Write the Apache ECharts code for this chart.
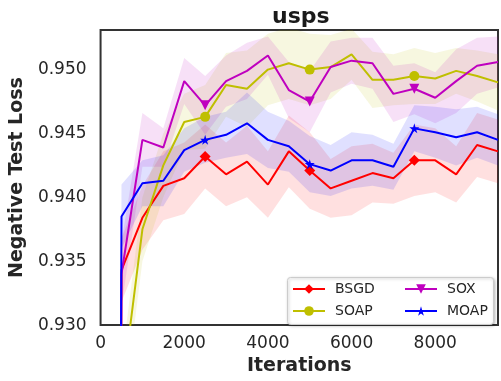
<!DOCTYPE html>
<html>
<head>
<meta charset="utf-8">
<script src="https://cdn.jsdelivr.net/npm/echarts@6/dist/echarts.min.js"></script>
<style>
html,body{margin:0;padding:0;background:#fff;}
#chart{width:501px;height:381px;}
</style>
</head>
<body>
<div id="chart"></div>
<script>
// ---- data ----
var iterations = [0, 500, 1000, 1500, 2000, 2500, 3000, 3500, 4000, 4500, 5000, 5500, 6000, 6500, 7000, 7500, 8000, 8500, 9000, 9500];
var markerIterations = [2500, 5000, 7500];
var seriesNames = ['BSGD', 'SOAP', 'SOX', 'MOAP'];

var BSGD = [0.5, 0.9343, 0.9384, 0.9409, 0.9415, 0.9432, 0.9418, 0.9428, 0.9410, 0.9436, 0.9421, 0.9407, 0.9413, 0.9419, 0.9415, 0.9429, 0.9429, 0.9418, 0.9441, 0.9436];
var SOAP = [0.5, 0.9245, 0.9375, 0.9425, 0.9459, 0.9463, 0.9488, 0.9485, 0.9500, 0.9505, 0.9500, 0.9502, 0.9512, 0.9492, 0.9492, 0.9495, 0.9493, 0.9499, 0.9495, 0.9490];
var SOX  = [0.5, 0.9340, 0.9445, 0.9439, 0.9491, 0.9472, 0.9491, 0.9499, 0.9511, 0.9484, 0.9475, 0.9502, 0.9507, 0.9505, 0.9481, 0.9485, 0.9478, 0.9491, 0.9503, 0.9506];
var MOAP = [0.5, 0.9385, 0.9411, 0.9413, 0.9437, 0.9445, 0.9449, 0.9458, 0.9445, 0.9440, 0.9426, 0.9421, 0.9429, 0.9429, 0.9424, 0.9454, 0.9451, 0.9447, 0.9451, 0.9445];

// half-width of the shaded bands
var BSGD_err = [0.002, 0.0025, 0.0025, 0.0027, 0.0028, 0.0025, 0.0025, 0.0028, 0.0026, 0.0028, 0.0030, 0.0023, 0.0027, 0.0023, 0.0020, 0.0028, 0.0025, 0.0022, 0.0025, 0.0025];
var SOAP_err = [0.002, 0.0025, 0.0025, 0.0025, 0.0022, 0.0025, 0.0025, 0.0030, 0.0028, 0.0028, 0.0028, 0.0025, 0.0020, 0.0022, 0.0020, 0.0022, 0.0020, 0.0018, 0.0020, 0.0022];
var SOX_err  = [0.002, 0.0025, 0.0021, 0.0015, 0.0018, 0.0023, 0.0020, 0.0022, 0.0015, 0.0022, 0.0024, 0.0020, 0.0018, 0.0020, 0.0022, 0.0020, 0.0020, 0.0025, 0.0022, 0.0020];
var MOAP_err = [0.002, 0.0025, 0.0018, 0.0020, 0.0017, 0.0018, 0.0018, 0.0024, 0.0022, 0.0020, 0.0022, 0.0020, 0.0022, 0.0020, 0.0018, 0.0018, 0.0020, 0.0022, 0.0020, 0.0020];

var yTicks = ['0.930', '0.935', '0.940', '0.945', '0.950'];
var xTicks = ['0', '2000', '4000', '6000', '8000'];

// ---- styling ----
var FONT = 'DejaVu Sans';
var TXT = '#262626';
var styles = {
  BSGD: {color: '#ff0000', symbol: 'diamond', size: 11, rotate: 0},
  SOAP: {color: '#bfbf00', symbol: 'circle', size: 10, rotate: 0},
  SOX:  {color: '#bf00bf', symbol: 'triangle', size: 10, rotate: 180},
  MOAP: {color: '#0000ff', symbol: 'path://M50,0 L61,35 L98,35 L68,57 L79,91 L50,70 L21,91 L32,57 L2,35 L39,35 Z', size: 10, rotate: 0}
};
var values = {BSGD: BSGD, SOAP: SOAP, SOX: SOX, MOAP: MOAP};
var errs = {BSGD: BSGD_err, SOAP: SOAP_err, SOX: SOX_err, MOAP: MOAP_err};

var series = [];
seriesNames.forEach(function (name) {
  var v = values[name], e = errs[name], st = styles[name];
  var bandData = iterations.map(function (x, i) { return [x, v[i] - e[i], v[i] + e[i]]; });
  series.push({
    name: name + '_band', type: 'custom', silent: true, z: 1, clip: true,
    data: bandData,
    encode: {x: 0, y: [1, 2]},
    renderItem: function (params, api) {
      if (params.dataIndex !== 0) return null;
      var upper = [], lower = [];
      for (var i = 0; i < bandData.length; i++) {
        upper.push(api.coord([bandData[i][0], bandData[i][2]]));
        lower.unshift(api.coord([bandData[i][0], bandData[i][1]]));
      }
      return {
        type: 'polygon',
        shape: {points: upper.concat(lower)},
        style: {fill: st.color, opacity: 0.12}
      };
    }
  });
});
seriesNames.forEach(function (name) {
  var v = values[name], st = styles[name];
  series.push({
    name: name, type: 'line', z: 3,
    data: iterations.map(function (x, i) { return [x, v[i]]; }),
    color: st.color,
    lineStyle: {color: st.color, width: 2},
    itemStyle: {color: st.color, borderWidth: 0},
    symbol: st.symbol, symbolRotate: st.rotate,
    showSymbol: true, showAllSymbol: true,
    symbolSize: function (val) { return markerIterations.indexOf(val[0]) >= 0 ? st.size : 0; }
  });
});

var chart = echarts.init(document.getElementById('chart'), null, {renderer: 'canvas'});
chart.setOption({
  animation: false,
  backgroundColor: '#ffffff',
  title: {
    text: 'usps', left: 272, top: 6, padding: 0,
    textStyle: {fontFamily: FONT, fontSize: 22, fontWeight: 'bold', color: '#1a1a1a'}
  },
  grid: {left: 96, top: 30, width: 409, height: 299, show: true, borderColor: '#333', borderWidth: 2, backgroundColor: 'transparent'},
  xAxis: {
    type: 'value', min: 0, max: 9500, interval: 2000,
    name: 'Iterations', nameLocation: 'middle', nameGap: 31,
    nameTextStyle: {fontFamily: FONT, fontSize: 19, fontWeight: 'bold', color: TXT},
    axisLine: {show: false}, axisTick: {show: false}, splitLine: {show: false},
    axisLabel: {
      fontFamily: FONT, fontSize: 17, color: TXT, margin: 10,
      formatter: function (v) { var s = String(Math.round(v)); return xTicks.indexOf(s) >= 0 ? s : ''; }
    }
  },
  yAxis: {
    type: 'value', min: 0.930, max: 0.9531, interval: 0.005,
    name: 'Negative Test Loss', nameLocation: 'middle', nameGap: 68,
    nameTextStyle: {fontFamily: FONT, fontSize: 19, fontWeight: 'bold', color: TXT},
    axisLine: {show: false}, axisTick: {show: false}, splitLine: {show: false},
    axisLabel: {
      fontFamily: FONT, fontSize: 17, color: TXT, margin: 14,
      formatter: function (v) { var s = v.toFixed(3); return yTicks.indexOf(s) >= 0 && Math.abs(v - parseFloat(s)) < 1e-6 ? s : ''; }
    }
  },
  graphic: [{
    type: 'rect', left: 287, top: 277, z: 50,
    shape: {width: 206, height: 47, r: 3},
    style: {fill: '#ffffff', stroke: '#cccccc', lineWidth: 1, shadowBlur: 3, shadowOffsetX: 1, shadowOffsetY: 1, shadowColor: 'rgba(0,0,0,0.25)'}
  }],
  legend: [{
    data: ['BSGD', 'SOAP'], orient: 'vertical', left: 292, top: 282, z: 60,
    itemWidth: 32, itemHeight: 12, itemGap: 8, selectedMode: false, padding: 0,
    textStyle: {fontFamily: FONT, fontSize: 14, color: TXT, padding: [0, 0, 0, 5]}
  }, {
    data: ['SOX', 'MOAP'], orient: 'vertical', left: 404, top: 282, z: 60,
    itemWidth: 32, itemHeight: 12, itemGap: 8, selectedMode: false, padding: 0,
    textStyle: {fontFamily: FONT, fontSize: 14, color: TXT, padding: [0, 0, 0, 5]}
  }],
  series: series
});
</script>
</body>
</html>
